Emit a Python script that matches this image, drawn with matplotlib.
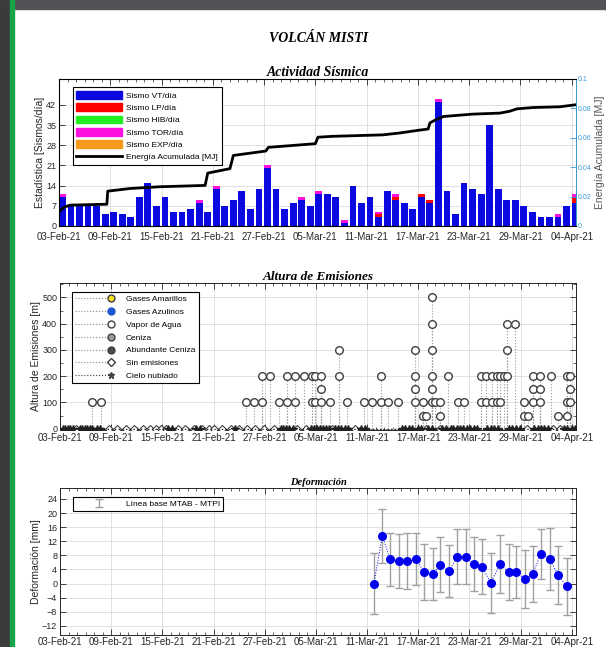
import numpy as np
import matplotlib.pyplot as plt
from matplotlib.patches import Rectangle, Patch
from matplotlib.lines import Line2D
from matplotlib.legend_handler import HandlerLine2D

plt.rcParams['font.family'] = ['Liberation Sans', 'DejaVu Sans']

# ---- datos (dia 0 = 03-Feb-21) ----
etiquetas_x = ['03-Feb-21', '09-Feb-21', '15-Feb-21', '21-Feb-21', '27-Feb-21', '05-Mar-21',
               '11-Mar-21', '17-Mar-21', '23-Mar-21', '29-Mar-21', '04-Apr-21']
dias_tick = [0, 6, 12, 18, 24, 30, 36, 42, 48, 54, 60]

sismo_vt = [10, 7, 7, 7, 7, 4, 5, 4, 3, 10, 15, 7, 10, 5, 5, 6, 8, 5, 13, 7,
            9, 12, 6, 13, 20, 13, 6, 8, 9, 7, 11, 11, 10, 1, 14, 8, 10, 3, 12, 9,
            8, 6, 10, 8, 43, 12, 4, 15, 13, 11, 35, 13, 9, 9, 7, 5, 3, 3, 3, 7, 8]
sismo_lp = [0, 0, 0, 0, 0, 0, 0, 0, 0, 0, 0, 0, 0, 0, 0, 0, 0, 0, 0, 0,
            0, 0, 0, 0, 0, 0, 0, 0, 0, 0, 0, 0, 0, 0, 0, 0, 0, 1, 0, 1,
            0, 0, 1, 1, 0, 0, 0, 0, 0, 0, 0, 0, 0, 0, 0, 0, 0, 0, 0, 0, 2]
sismo_hib = [0] * 61
sismo_tor = [1, 0, 0, 0, 0, 0, 0, 0, 0, 0, 0, 0, 0, 0, 0, 0, 1, 0, 1, 0,
             0, 0, 0, 0, 1, 0, 0, 0, 1, 0, 1, 0, 0, 1, 0, 0, 0, 1, 0, 1,
             0, 0, 0, 0, 1, 0, 0, 0, 0, 0, 0, 0, 0, 0, 0, 0, 0, 0, 1, 0, 1]
sismo_exp = [0] * 61

energia_dias = [0, 0.6, 1.3, 5.6, 5.7, 8.3, 11.8, 17.1, 17.4, 20.0, 20.4, 24.2, 24.5,
                30.0, 30.3, 32.0, 37.9, 39.9, 41.8, 43.2, 43.4, 44.0, 45.0, 48.4,
                51.6, 52.7, 53.6, 55.5, 58.6, 60.5]
energia_mj = [0.0097, 0.0128, 0.0142, 0.0148, 0.0237, 0.0255, 0.0267, 0.0276, 0.036,
              0.039, 0.048, 0.051, 0.0535, 0.056, 0.0604, 0.061, 0.062, 0.0633, 0.0649,
              0.066, 0.0701, 0.072, 0.0745, 0.0761, 0.0768, 0.078, 0.0797, 0.0806,
              0.0811, 0.0825]

vapor_dias = [3.8, 4.8, 21.8, 22.7, 23.7, 23.7, 24.6, 25.7, 26.6, 26.6, 27.6, 27.6,
              28.6, 29.6, 29.6, 29.85, 29.85, 30.6, 30.6, 30.6, 31.7, 32.7, 32.7, 33.6,
              35.6, 36.6, 37.6, 37.6, 38.5, 39.6, 41.6, 41.6, 41.6, 41.6, 42.6, 42.6,
              42.9, 43.6, 43.6, 43.6, 43.6, 43.6, 43.6, 44.0, 44.5, 44.5, 45.5, 46.7,
              47.4, 49.4, 49.4, 50.0, 50.0, 50.6, 50.6, 51.2, 51.2, 51.6, 51.6, 52.0,
              52.4, 52.4, 52.4, 53.4, 54.4, 54.4, 54.9, 55.5, 55.5, 55.5, 56.3, 56.3,
              56.3, 57.6, 58.4, 59.4, 59.4, 59.4, 59.8, 59.8, 59.8]
vapor_altura = [100, 100, 100, 100, 100, 200, 200, 100, 100, 200, 100, 200,
                200, 200, 100, 200, 100, 200, 150, 100, 100, 300, 200, 100,
                100, 100, 200, 100, 100, 100, 300, 200, 150, 100, 100, 50,
                50, 500, 400, 300, 200, 150, 100, 100, 100, 50, 200, 100,
                100, 200, 100, 200, 100, 200, 100, 200, 100, 200, 100, 200,
                400, 300, 200, 400, 100, 50, 50, 200, 150, 100, 200, 150,
                100, 200, 50, 200, 100, 50, 200, 150, 100]

sin_emis_dias = [1.9, 5.8, 6.7, 7.7, 8.7, 9.7, 10.5, 11.2, 11.8, 12.4, 13.8, 14.7,
                 15.7, 16.7, 17.5, 18.1, 19.0, 20.0, 21.0, 21.9, 22.9, 23.9, 25.1,
                 27.8, 28.9, 31.9, 34.6, 42.9, 44.5, 54.7, 57.8, 58.6]
nublado_dias = [0.3, 0.6, 0.9, 1.2, 1.5, 2.3, 2.6, 2.9, 3.2, 3.5, 3.8, 4.3, 4.7,
                12.7, 13.1, 16.0, 16.4, 20.5, 25.9, 26.2, 26.5, 26.9, 27.3, 29.4,
                29.8, 30.1, 30.5, 30.8, 31.2, 31.5, 32.2, 32.6, 33.0, 33.4, 33.8,
                35.3, 35.8, 40.1, 40.5, 40.9, 41.3, 42.0, 42.3, 43.2, 43.6, 44.8,
                45.2, 45.8, 46.1, 46.5, 46.9, 47.3, 47.7, 48.1, 48.5, 48.9, 50.1,
                50.5, 50.9, 51.3, 52.6, 53.0, 53.5, 53.9, 55.6, 56.0, 56.4, 56.8,
                57.2, 59.1, 59.5, 60.0, 60.4]

def_dias = [36.8, 37.8, 38.7, 39.7, 40.7, 41.7, 42.7, 43.7, 44.6, 45.6, 46.6, 47.6,
            48.5, 49.5, 50.5, 51.6, 52.6, 53.5, 54.5, 55.4, 56.4, 57.4, 58.4, 59.4]
def_mm = [0.0, 13.5, 6.9, 6.3, 6.4, 7.0, 3.3, 2.7, 5.3, 3.5, 7.6, 7.6,
          5.6, 4.8, 0.2, 5.5, 3.3, 3.3, 1.2, 2.7, 8.4, 7.0, 2.4, -0.8]
def_err = [8.7, 7.7, 7.5, 7.7, 7.9, 7.4, 7.9, 7.5, 7.8, 7.4, 7.8, 7.8,
           7.7, 7.9, 8.6, 8.2, 8.0, 7.4, 8.2, 8.0, 7.2, 8.9, 8.3, 8.1]

GRIS = '#262626'
AZUL_DER = '#3d9ad6'
serif = ['Liberation Serif', 'DejaVu Serif']


class MarcadorAlFinal(HandlerLine2D):
    # marcador al extremo derecho de la linea, como en la leyenda original
    def create_artists(self, *args, **kwargs):
        arts = super().create_artists(*args, **kwargs)
        arts[0].set_markevery([2])
        return arts


def estilo(ax, right=True, xpad=2):
    ax.set_xlim(0, 60.5)
    ax.set_xticks(dias_tick)
    ax.set_xticklabels(etiquetas_x)
    ax.set_xticks(np.arange(0, 61), minor=True)
    ax.tick_params(which='both', direction='in', top=True, right=right,
                   colors=GRIS, pad=2)
    ax.tick_params(axis='x', labelsize=7, pad=xpad)
    ax.tick_params(axis='y', labelsize=6.5)
    ax.tick_params(which='major', length=4, width=0.6)
    ax.tick_params(which='minor', length=2, width=0.5)
    ax.grid(True, color='#dcdcdc', lw=0.6)
    ax.set_axisbelow(True)
    for s in ax.spines.values():
        s.set_linewidth(0.7)
        s.set_color(GRIS)


fig = plt.figure(figsize=(6.06, 6.47), dpi=100)

# marco oscuro de la captura
fig.patches.append(Rectangle((0, 0), 0.0165, 1, transform=fig.transFigure, color='#3b3b3d', zorder=-5))
fig.patches.append(Rectangle((0.0165, 0), 0.0066, 1, transform=fig.transFigure, color='#18a548', zorder=-4))
fig.patches.append(Rectangle((0.023, 0.986), 0.977, 0.014, transform=fig.transFigure, color='#515357', zorder=-5))

fig.text(0.525, 0.94, 'VOLCÁN MISTI', ha='center', va='center', fontsize=10,
         fontweight='bold', style='italic', family=serif)

# ---- Actividad Sismica ----
ax1 = fig.add_axes([0.0974, 0.6507, 0.8531, 0.2272])
dias = np.arange(len(sismo_vt))
colores = ['#0a0ae0', '#ff0000', '#22ee22', '#ff10e0', '#f59a1a']
nombres = ['Sismo VT/día', 'Sismo LP/día', 'Sismo HIB/día', 'Sismo TOR/día', 'Sismo EXP/día']
base = np.zeros(len(dias))
for serie, c in zip([sismo_vt, sismo_lp, sismo_hib, sismo_tor, sismo_exp], colores):
    ax1.bar(dias, serie, width=0.8, bottom=base, align='edge', color=c, lw=0)
    base = base + np.array(serie)
estilo(ax1, right=False, xpad=4)
ax1.set_ylim(0, 51)
ax1.set_yticks([0, 7, 14, 21, 28, 35, 42])
ax1.set_ylabel('Estadística [Sismos/día]', fontsize=7.5, labelpad=1, color=GRIS)
ax1.set_title('Actividad Sísmica', fontsize=10, fontweight='bold', style='italic',
              family=serif, pad=2)

ax2 = ax1.twinx()
ax2.plot(energia_dias, energia_mj, color='black', lw=2)
ax2.set_ylim(0, 0.1)
ax2.set_yticks([0, 0.02, 0.04, 0.06, 0.08, 0.1])
ax2.set_yticklabels(['0', '0.02', '0.04', '0.06', '0.08', '0.1'])
ax2.tick_params(axis='y', direction='in', length=4, width=0.6, colors=AZUL_DER,
                labelsize=5, pad=1.5)
ax2.spines['right'].set_color(AZUL_DER)
ax2.spines['right'].set_linewidth(0.7)
ax2.set_ylabel('Energía Acumulada [MJ]', fontsize=7.5, color='#555555', labelpad=2)

h1 = [Patch(color=c) for c in colores] + [Line2D([], [], color='black', lw=2)]
leg = ax1.legend(h1, nombres + ['Energía Acumulada [MJ]'], loc='upper left',
                 bbox_to_anchor=(0.0265, 0.9435), borderaxespad=0, fontsize=6,
                 handlelength=5.5, handleheight=1.0, handletextpad=0.5,
                 labelspacing=0.45, fancybox=False, framealpha=1,
                 edgecolor='black', borderpad=0.45)
leg.get_frame().set_linewidth(0.8)
leg.set_zorder(10)

# ---- Altura de Emisiones ----
ax3 = fig.add_axes([0.099, 0.3354, 0.8515, 0.2272])
estilo(ax3)
ax3.vlines(vapor_dias, 0, vapor_altura, colors='#9a9a9a', linestyles=':', lw=0.8)
ax3.plot(sin_emis_dias, np.zeros(len(sin_emis_dias)), 'D', mfc='white', mec='#404040',
         ms=4, mew=0.8, ls=':', color='#707070', lw=0.8, zorder=3)
ax3.plot(nublado_dias, np.zeros(len(nublado_dias)), '*', color='#202020', ms=5.5,
         ls=':', lw=1.0, zorder=3)
ax3.plot(vapor_dias, vapor_altura, 'o', mfc='white', mec='#404040', ms=5.5, mew=1,
         ls='none', zorder=4)
ax3.set_ylim(-5, 555)
ax3.set_yticks([0, 100, 200, 300, 400, 500])
ax3.set_yticks(np.arange(0, 551, 50), minor=True)
ax3.set_ylabel('Altura de Emisiones [m]', fontsize=7.5, labelpad=1, color=GRIS)
ax3.set_title('Altura de Emisiones', fontsize=9.5, fontweight='bold', style='italic',
              family=serif, pad=2)

h2 = [Line2D([], [], ls=':', color='#8a8a8a', lw=0.8, marker='o', mfc='#f2e21c', mec='#404040', ms=5),
      Line2D([], [], ls=':', color='#8a8a8a', lw=0.8, marker='o', mfc='#1f55d0', mec='#1f55d0', ms=5),
      Line2D([], [], ls=':', color='#8a8a8a', lw=0.8, marker='o', mfc='white', mec='#404040', ms=5),
      Line2D([], [], ls=':', color='#8a8a8a', lw=0.8, marker='o', mfc='#9c9c9c', mec='#404040', ms=5),
      Line2D([], [], ls=':', color='#8a8a8a', lw=0.8, marker='o', mfc='#4a4a4a', mec='#404040', ms=5),
      Line2D([], [], ls=':', color='#8a8a8a', lw=0.8, marker='D', mfc='white', mec='#404040', ms=4),
      Line2D([], [], ls=':', color='#404040', lw=0.8, marker='*', ms=4.5)]
etiq2 = ['Gases Amarillos', 'Gases Azulinos', 'Vapor de Agua', 'Ceniza',
         'Abundante Ceniza', 'Sin emisiones', 'Cielo nublado']
leg2 = ax3.legend(h2, etiq2, loc='upper left', bbox_to_anchor=(0.023, 0.939),
                  borderaxespad=0, fontsize=6, handlelength=4.3, handletextpad=1.8,
                  labelspacing=0.6, fancybox=False, framealpha=1, edgecolor='black',
                  numpoints=1, handler_map={Line2D: MarcadorAlFinal()})
leg2.get_frame().set_linewidth(0.8)
leg2.set_zorder(10)

# ---- Deformacion ----
ax4 = fig.add_axes([0.099, 0.0185, 0.8515, 0.2272])
estilo(ax4, xpad=1.5)
eb = ax4.errorbar(def_dias, def_mm, yerr=def_err, fmt='none', ecolor='#a0a0a0',
                  elinewidth=1, capsize=3, capthick=1)
ax4.plot(def_dias, def_mm, ls=':', color='#0000ee', lw=0.7, marker='o', ms=5.5,
         mfc='#0000ee', mec='#0000ee', zorder=4)
ax4.set_ylim(-14.6, 27.1)
ax4.set_yticks(np.arange(-12, 25, 4))
ax4.set_ylabel('Deformación [mm]', fontsize=7.5, labelpad=1, color=GRIS)
ax4.set_title('Deformación', fontsize=7.5, fontweight='bold', style='italic',
              family=serif, pad=2)
leg3 = ax4.legend([eb], ['Línea base MTAB - MTPI'], loc='upper left',
                  bbox_to_anchor=(0.025, 0.939), borderaxespad=0, fontsize=6,
                  handlelength=5.5, handletextpad=0.5, fancybox=False, framealpha=1,
                  edgecolor='black', borderpad=0.35)
leg3.get_frame().set_linewidth(0.8)

fig.savefig('out.png', dpi=100)
